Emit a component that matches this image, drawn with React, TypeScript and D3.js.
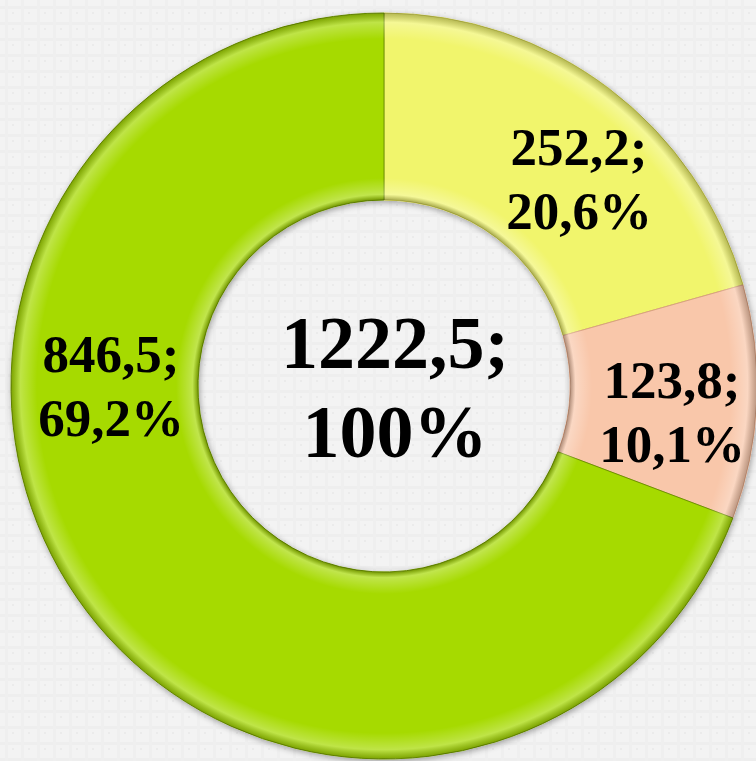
import React from "react";
import * as d3 from "d3";

const categories = ["A", "B", "C"];
const values = [252.2, 123.8, 846.5];
const percents = ["20,6%", "10,1%", "69,2%"];
const valueLabels = ["252,2;", "123,8;", "846,5;"];
const colors = ["#f1f56c", "#f9c7aa", "#a6da06"];
const edgeColors = ["#c9c94a", "#d9a080", "#6f9400"];
const totalLabel = "1222,5;";
const totalPct = "100%";

// layout (not data)
const W = 756, H = 761;
const CX = 384, CY = 386, R = 373, R0 = 186;
const labelAnchors = [
  [579, 165],
  [672, 398],
  [111, 372],
];

export default function App() {
  const pie = d3.pie<number>().sort(null).value((d) => d)(values);
  const arc = d3.arc<d3.PieArcDatum<number>>().innerRadius(R0).outerRadius(R);
  const ringStops = [R0 / R, (R0 + 22) / R, (R - 26) / R, 1];
  return (
    <div style={{ position: "fixed", left: 0, top: 0, width: W, height: H }}>
      <svg width={W} height={H} style={{ display: "block" }}>
        <defs>
          <pattern id="bgp" width="16" height="16" patternUnits="userSpaceOnUse">
            <rect width="16" height="16" fill="#f3f3f3" />
            <rect x="0" y="6" width="16" height="3" fill="#eeeeee" />
            <rect x="5" y="0" width="3" height="16" fill="#efefef" />
            <rect x="12" y="12" width="2" height="2" fill="#ebebeb" />
          </pattern>
          <radialGradient id="ringShadeLocal" cx={0} cy={0} r={R} gradientUnits="userSpaceOnUse">
            <stop offset={ringStops[0]} stopColor="#000" stopOpacity={0.3} />
            <stop offset={ringStops[0] + 0.015} stopColor="#fff" stopOpacity={0.3} />
            <stop offset={ringStops[1]} stopColor="#fff" stopOpacity={0} />
            <stop offset={ringStops[2]} stopColor="#fff" stopOpacity={0} />
            <stop offset={0.975} stopColor="#fff" stopOpacity={0.28} />
            <stop offset={1} stopColor="#000" stopOpacity={0.25} />
          </radialGradient>
          <filter id="shadow" x="-10%" y="-10%" width="120%" height="120%">
            <feGaussianBlur in="SourceAlpha" stdDeviation="3" />
            <feOffset dx="1" dy="2" result="b" />
            <feComponentTransfer>
              <feFuncA type="linear" slope="0.35" />
            </feComponentTransfer>
            <feMerge>
              <feMergeNode />
              <feMergeNode in="SourceGraphic" />
            </feMerge>
          </filter>
        </defs>
        <rect width={W} height={H} fill="url(#bgp)" />
        <g transform={`translate(${CX},${CY})`}>
          <g filter="url(#shadow)">
            {pie.map((p, i) => (
              <path key={categories[i]} d={arc(p) || ""} fill={colors[i]} stroke={edgeColors[i]} strokeWidth={1} />
            ))}
          </g>
          {pie.map((p, i) => (
            <path key={"o" + i} d={arc(p) || ""} fill="url(#ringShadeLocal)" />
          ))}
        </g>
        <g fontFamily="'Liberation Serif', 'Times New Roman', serif" fontWeight="bold" fill="#000" textAnchor="middle">
          {pie.map((p, i) => (
            <text key={"t" + i} x={labelAnchors[i][0]} y={labelAnchors[i][1]} fontSize={53}>
              <tspan x={labelAnchors[i][0]}>{valueLabels[i]}</tspan>
              <tspan x={labelAnchors[i][0]} dy={64}>{percents[i]}</tspan>
            </text>
          ))}
          <text x={CX + 11} y={368} fontSize={74}>
            <tspan x={CX + 11}>{totalLabel}</tspan>
            <tspan x={CX + 11} dy={89}>{totalPct}</tspan>
          </text>
        </g>
      </svg>
    </div>
  );
}
